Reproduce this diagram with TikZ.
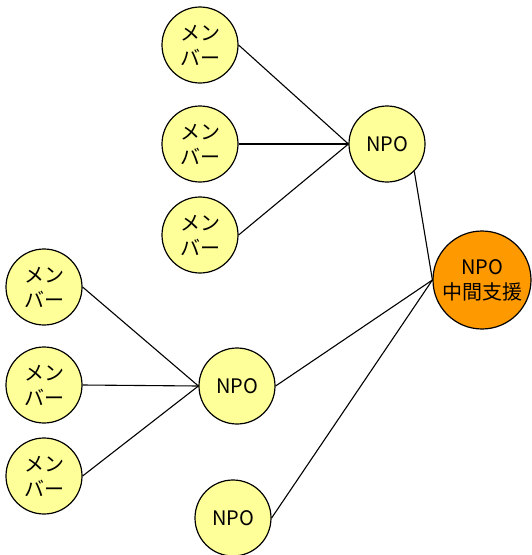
\documentclass[tikz,border=0pt]{standalone}
\usepackage{fontspec}
\setmainfont{Noto Sans CJK JP}
\usetikzlibrary{positioning}

\begin{document}
\begin{tikzpicture}[
        x=1pt, y=-1pt,
        member/.style={circle, draw, line width=1.2pt, fill=memberyellow, minimum size=76pt, inner sep=0pt, align=center, font=\fontsize{20}{25}\selectfont},
        npo/.style={member},
        hub/.style={member, fill=huborange, minimum size=98pt},
        link/.style={line width=1.1pt}
    ]
        \definecolor{memberyellow}{HTML}{FFFF99}
        \definecolor{huborange}{HTML}{FF9900}
        \useasboundingbox (0,0) rectangle (531,555);

        % Top group
        \node[member] (m1) at (200, 45) {メン\\バー};
        \node[member] (m2) at (200, 144) {メン\\バー};
        \node[member] (m3) at (200, 235) {メン\\バー};
        \node[npo] (npoA) at (387, 144) {NPO};

        % Left group
        \node[member] (m4) at (44, 287) {メン\\バー};
        \node[member] (m5) at (44, 385) {メン\\バー};
        \node[member] (m6) at (44, 476) {メン\\バー};
        \node[npo] (npoB) at (237, 386) {NPO};

        % Single NPO
        \node[npo] (npoC) at (233, 518) {NPO};

        % Intermediary support
        \node[hub] (hub) at (482, 280) {NPO\\中間支援};

        % Links
        \draw[link] (m1.east) -- (npoA.west);
        \draw[link] (m2.east) -- (npoA.west);
        \draw[link] (m3.east) -- (npoA.west);
        \draw[link] (m4.east) -- (npoB.west);
        \draw[link] (m5.east) -- (npoB.west);
        \draw[link] (m6.east) -- (npoB.west);
        \draw[link] (npoA.south east) -- (hub.west);
        \draw[link] (npoB.east) -- (hub.west);
        \draw[link] (npoC.east) -- (hub.west);
    \end{tikzpicture}
\end{document}
